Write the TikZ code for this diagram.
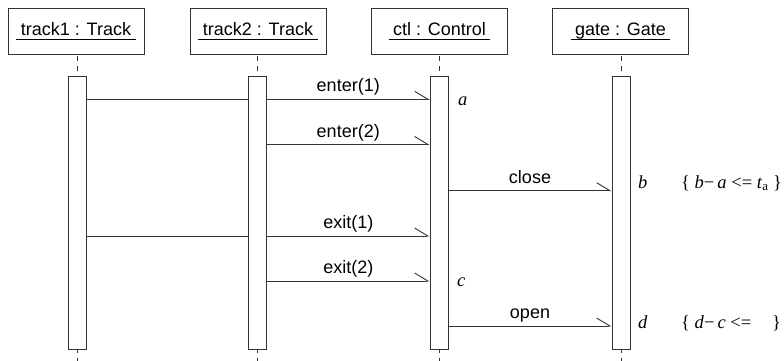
\documentclass[tikz,border=0pt]{standalone}
\usepackage{fontspec}
\setmainfont{Liberation Serif}
\setsansfont{Liberation Sans}
\usepackage{tikz}
\usetikzlibrary{arrows.meta}
\colorlet{colorLine}{black!80}
% underlined object name, rule at a fixed depth
\newcommand{\objname}[1]{\setbox0\hbox{\hspace{4.5pt}#1\hspace{4.5pt}}\rlap{\rule[-4.75pt]{\wd0}{0.9pt}}\box0}
\tikzset{
  object/.style={draw=colorLine, line width=0.9pt, minimum width=136pt, minimum height=45.5pt, inner sep=0pt, font=\sffamily\fontsize{18}{21}\selectfont},
  activation/.style={draw=colorLine, fill=white, line width=0.9pt, minimum width=18pt, minimum height=272.3pt, inner sep=0pt},
  lifeline/.style={colorLine, line width=0.9pt, dash pattern=on 5.3pt off 4.75pt, dash phase=8.65pt},
  message/.style={colorLine, line width=0.9pt},
  call/.style={message, -{Straight Barb[harpoon, length=13.3pt, width=16pt]}},
  msglabel/.style={anchor=base, yshift=7.5pt, inner sep=0pt, text=black, font=\sffamily\fontsize{18}{21}\selectfont},
  timelabel/.style={anchor=base west, inner sep=0pt, font=\fontsize{18.5}{22}\selectfont\itshape},
}

\begin{document}
\begin{tikzpicture}[x=1pt, y=-1pt]
\useasboundingbox (0,0) rectangle (784,361);

% objects
\node[object] (track1) at (76,31.5) {\objname{track1 : Track}};
\node[object] (track2) at (258,31.5) {\objname{track2 : Track}};
\node[object] (ctl) at (439.5,31.5) {\objname{ctl : Control}};
\node[object] (gate) at (620.5,31.5) {\objname{gate : Gate}};

% lifelines, drawn first so the activations cover them
\foreach \o/\x in {track1/77, track2/257.5, ctl/439, gate/621} {
  \coordinate (\o-end) at (\x,361);
  \draw[lifeline] (\o.south -| \o-end) -- (\o-end);
}

% activations
\node[activation] (act1) at (77,212.85) {};
\node[activation] (act2) at (257.5,212.85) {};
\node[activation] (act3) at (439,212.85) {};
\node[activation] (act4) at (621,212.85) {};

% message rows
\foreach \y [count=\i] in {99.3, 144.5, 190.7, 236, 281, 326}
  \coordinate (m\i) at (0,\y);

% messages
\draw[message] (act1.east |- m1) -- (act2.west |- m1);
\draw[call] (act2.east |- m1) -- node[msglabel] {enter(1)} (act3.west |- m1);
\draw[call] (act2.east |- m2) -- node[msglabel] {enter(2)} (act3.west |- m2);
\draw[call] (act3.east |- m3) -- node[msglabel] {close} (act4.west |- m3);
\draw[message] (act1.east |- m4) -- (act2.west |- m4);
\draw[call] (act2.east |- m4) -- node[msglabel] {exit(1)} (act3.west |- m4);
\draw[call] (act2.east |- m5) -- node[msglabel] {exit(2)} (act3.west |- m5);
\draw[call] (act3.east |- m6) -- node[msglabel] {open} (act4.west |- m6);

% time points and constraints
\node[timelabel] (ta) at (458,105) {a};
\node[timelabel] (tb) at (638,188) {b};
\node[timelabel] (tc) at (457,286) {c};
\node[timelabel] (td) at (638,328) {d};
\node[timelabel, font=\fontsize{18.5}{22}\selectfont] (ba) at (681,188)
  {\{ \textit{b}−\,\textit{a} <= \textit{t}\textsubscript{a} \}};
\node[timelabel, font=\fontsize{18.5}{22}\selectfont] (dc) at (681,328)
  {\{ \textit{d}−\,\textit{c} <= \phantom{\textit{t}\textsubscript{a}} \}};
\end{tikzpicture}
\end{document}
